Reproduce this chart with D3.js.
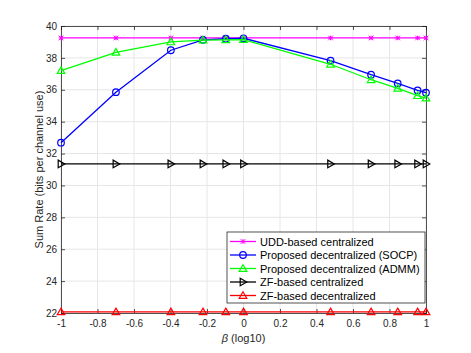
<!DOCTYPE html>
<html><head><meta charset="utf-8">
<script src="https://cdn.jsdelivr.net/npm/d3@7"></script>
<style>body{margin:0;background:#fff}svg{display:block}</style>
</head><body>
<script>
const betaLog = [-1, -0.699, -0.398, -0.222, -0.097, 0, 0.477, 0.699, 0.845, 0.954, 1];
const uddCentral = [39.25, 39.25, 39.25, 39.25, 39.25, 39.25, 39.25, 39.25, 39.25, 39.25, 39.25];
const socpDecentral = [32.68, 35.85, 38.48, 39.13, 39.2, 39.23, 37.83, 36.95, 36.4, 35.96, 35.82];
const admmDecentral = [37.2, 38.35, 39.0, 39.12, 39.13, 39.15, 37.6, 36.63, 36.09, 35.63, 35.48];
const zfCentral = [31.35, 31.35, 31.35, 31.35, 31.35, 31.35, 31.35, 31.35, 31.35, 31.35, 31.35];
const zfDecentral = [22.07, 22.07, 22.07, 22.07, 22.07, 22.07, 22.07, 22.07, 22.07, 22.07, 22.07];
const xTicks = [-1, -0.8, -0.6, -0.4, -0.2, 0, 0.2, 0.4, 0.6, 0.8, 1];
const xTickLabels = ["-1", "-0.8", "-0.6", "-0.4", "-0.2", "0", "0.2", "0.4", "0.6", "0.8", "1"];
const yTicks = [22, 24, 26, 28, 30, 32, 34, 36, 38, 40];
const seriesNames = ["UDD-based centralized", "Proposed decentralized (SOCP)", "Proposed decentralized (ADMM)", "ZF-based centralized", "ZF-based decentralized"];
const seriesColors = ["#ff00ff", "#0000ff", "#00ff00", "#000000", "#ff0000"];
const seriesMarkers = ["star", "circle", "triUp", "triRight", "triUp"];
const seriesValues = [uddCentral, socpDecentral, admmDecentral, zfCentral, zfDecentral];

const W = 471, H = 353;
const m = {l: 61, r: 45, t: 26, b: 40};
const svg = d3.select("body").append("svg").attr("width", W).attr("height", H);
const x = d3.scaleLinear().domain([-1, 1]).range([m.l, W - m.r]);
const y = d3.scaleLinear().domain([22, 40]).range([H - m.b, m.t]);
const font = "Liberation Sans, Arial, sans-serif";
const axisCol = "#262626";

// grid
const g = svg.append("g");
g.selectAll(".gx").data(xTicks).join("line").attr("x1", d => x(d)).attr("x2", d => x(d))
  .attr("y1", m.t).attr("y2", H - m.b).attr("stroke", "#e6e6e6").attr("stroke-width", 1);
g.selectAll(".gy").data(yTicks).join("line").attr("y1", d => y(d)).attr("y2", d => y(d))
  .attr("x1", m.l).attr("x2", W - m.r).attr("stroke", "#e6e6e6").attr("stroke-width", 1);

// axes
const xAxis = d3.axisBottom(x).tickValues(xTicks).tickSize(-4).tickPadding(7).tickFormat((d, i) => xTickLabels[i]);
const yAxis = d3.axisLeft(y).tickValues(yTicks).tickSize(-4).tickPadding(4);
const xa = svg.append("g").attr("transform", `translate(0,${H - m.b})`).call(xAxis);
const ya = svg.append("g").attr("transform", `translate(${m.l},0)`).call(yAxis);
const xt = svg.append("g").attr("transform", `translate(0,${m.t})`).call(d3.axisTop(x).tickValues(xTicks).tickSize(-4).tickFormat(""));
const yr = svg.append("g").attr("transform", `translate(${W - m.r},0)`).call(d3.axisRight(y).tickValues(yTicks).tickSize(-4).tickFormat(""));
[xa, ya, xt, yr].forEach(a => {
  a.select(".domain").attr("stroke", axisCol).attr("stroke-width", 0.8);
  a.selectAll(".tick line").attr("stroke", axisCol).attr("stroke-width", 0.8);
  a.selectAll("text").attr("font-family", font).attr("font-size", 10).attr("fill", axisCol);
});

// labels
svg.append("text").attr("x", x(0)).attr("y", H - 11).attr("text-anchor", "middle")
  .attr("font-family", font).attr("font-size", 11).attr("fill", axisCol)
  .html('<tspan font-style="italic">β</tspan> (log10)');
svg.append("text").attr("transform", `translate(${43},${(m.t + H - m.b) / 2}) rotate(-90)`)
  .attr("text-anchor", "middle").attr("font-family", font).attr("font-size", 11).attr("fill", axisCol)
  .text("Sum Rate (bits per channel use)");

function drawMarker(sel, type, color, cx, cy) {
  const s = 3.3;
  if (type === "circle") {
    sel.append("circle").attr("cx", cx).attr("cy", cy).attr("r", s).attr("fill", "none").attr("stroke", color).attr("stroke-width", 1.2);
  } else if (type === "triUp") {
    sel.append("path").attr("d", `M${cx},${cy - s - 0.5}L${cx + s + 0.5},${cy + s - 0.5}L${cx - s - 0.5},${cy + s - 0.5}Z`).attr("fill", "none").attr("stroke", color).attr("stroke-width", 1.2);
  } else if (type === "triRight") {
    sel.append("path").attr("d", `M${cx + s + 0.5},${cy}L${cx - s + 0.5},${cy - s - 0.5}L${cx - s + 0.5},${cy + s + 0.5}Z`).attr("fill", "none").attr("stroke", color).attr("stroke-width", 1.2);
  } else if (type === "star") {
    const r = 2.3;
    sel.append("path").attr("d", `M${cx - r},${cy - r}L${cx + r},${cy + r}M${cx - r},${cy + r}L${cx + r},${cy - r}M${cx - r},${cy}L${cx + r},${cy}M${cx},${cy - r}L${cx},${cy + r}`).attr("stroke", color).attr("stroke-width", 1);
  }
}

const line = d3.line().x((d, i) => x(betaLog[i])).y(d => y(d));
const plot = svg.append("g");
seriesValues.forEach((vals, k) => {
  plot.append("path").datum(vals).attr("d", line).attr("fill", "none").attr("stroke", seriesColors[k]).attr("stroke-width", 1.3);
  const mg = plot.append("g");
  vals.forEach((v, i) => drawMarker(mg, seriesMarkers[k], seriesColors[k], x(betaLog[i]), y(v)));
});

// legend
const lg = svg.append("g");
const lx = 227, ly = 232, lw = 198, lh = 71;
lg.append("rect").attr("x", lx).attr("y", ly).attr("width", lw).attr("height", lh).attr("fill", "#fff").attr("stroke", axisCol).attr("stroke-width", 0.8);
seriesNames.forEach((name, k) => {
  const ry = ly + 9.5 + k * 13.5;
  lg.append("line").attr("x1", lx + 3).attr("x2", lx + 29).attr("y1", ry).attr("y2", ry).attr("stroke", seriesColors[k]).attr("stroke-width", 1.3);
  drawMarker(lg, seriesMarkers[k], seriesColors[k], lx + 16, ry);
  lg.append("text").attr("x", lx + 33).attr("y", ry + 4).attr("font-family", font).attr("font-size", 11).attr("fill", "#000").text(name);
});
</script>
</body></html>
